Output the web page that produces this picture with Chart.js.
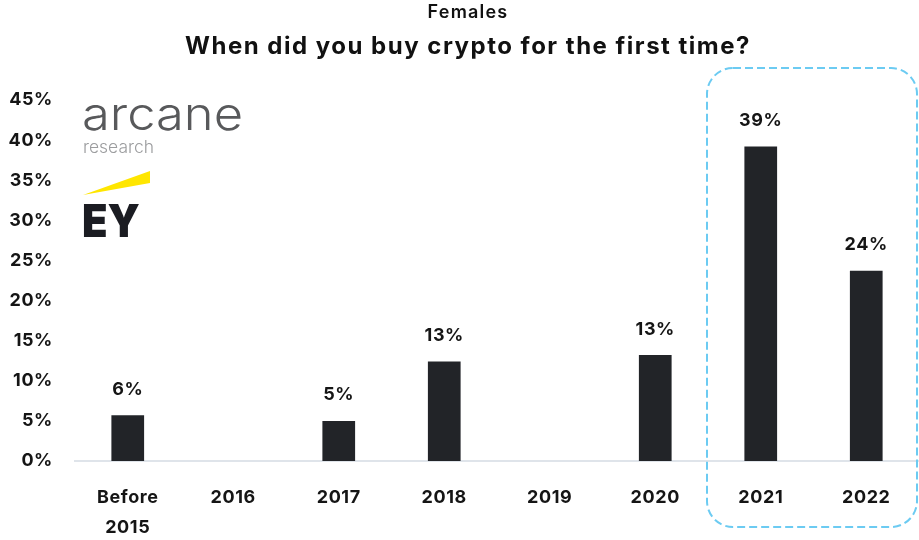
<!DOCTYPE html>
<html><head><meta charset="utf-8">
<script src="https://cdn.jsdelivr.net/npm/chart.js@4.4.0/dist/chart.umd.min.js"></script>
<style>html,body{margin:0;padding:0;background:#fff;}canvas{display:block;}</style>
</head><body>
<canvas id="c" width="919" height="540"></canvas>
<script>
const categories = [["Before","2015"], "2016", "2017", "2018", "2019", "2020", "2021", "2022"];
const values = [5.7, null, 5.0, 12.4, null, 13.2, 39.2, 23.7];
const valueLabels = ["6%", "", "5%", "13%", "", "13%", "39%", "24%"];
const yTicks = [0, 5, 10, 15, 20, 25, 30, 35, 40, 45];
const titleText = "Females";
const subtitleText = "When did you buy crypto for the first time?";

const FONT = "Inter, 'Noto Sans', sans-serif";

const spacing = {
  id: 'spacing',
  beforeDraw(chart) { chart.ctx.letterSpacing = '0.6px'; }
};

const decor = {
  id: 'decor',
  afterDatasetsDraw(chart) {
    const ctx = chart.ctx;
    const meta = chart.getDatasetMeta(0);
    ctx.save();
    ctx.letterSpacing = '0.6px';
    ctx.fillStyle = '#151515';
    ctx.font = "700 18px " + FONT;
    ctx.textAlign = 'center';
    ctx.textBaseline = 'middle';
    meta.data.forEach((bar, i) => {
      if (values[i] == null) return;
      ctx.fillText(valueLabels[i], bar.x, bar.y - 26);
    });
    // titles
    ctx.fillStyle = '#111';
    ctx.font = "600 18px " + FONT;
    ctx.letterSpacing = '1.2px';
    ctx.fillText(titleText, 468, 13);
    ctx.font = "700 24px " + FONT;
    ctx.letterSpacing = '1.5px';
    ctx.fillText(subtitleText, 468, 47);
    ctx.letterSpacing = '0px';
    // highlight box around 2021-2022
    const xs = chart.scales.x;
    const cx1 = xs.getPixelForValue(6), cx2 = xs.getPixelForValue(7);
    const step = cx2 - cx1;
    const left = cx1 - step * 0.5 - 1, right = cx2 + step * 0.5 - 2;
    const top = 68, bottom = 527, r = 26;
    ctx.strokeStyle = '#6ccbf2';
    ctx.lineWidth = 2;
    ctx.setLineDash([8, 4]);
    ctx.beginPath();
    ctx.roundRect(left, top, right - left, bottom - top, r);
    ctx.stroke();
    ctx.setLineDash([]);
    // logos
    ctx.textAlign = 'left';
    ctx.textBaseline = 'alphabetic';
    ctx.fillStyle = '#58595b';
    ctx.font = "300 46px " + FONT;
    let w = ctx.measureText('arcane').width;
    ctx.save();
    ctx.translate(82, 130);
    ctx.scale(161 / w, 1);
    ctx.fillText('arcane', 0, 0);
    ctx.restore();
    ctx.fillStyle = '#9b9c9e';
    ctx.font = "300 17px " + FONT;
    w = ctx.measureText('research').width;
    ctx.save();
    ctx.translate(83, 153);
    ctx.scale(71 / w, 1);
    ctx.fillText('research', 0, 0);
    ctx.restore();
    ctx.fillStyle = '#ffe600';
    ctx.beginPath();
    ctx.moveTo(83, 195);
    ctx.lineTo(150, 171);
    ctx.lineTo(150, 183);
    ctx.closePath();
    ctx.fill();
    ctx.fillStyle = '#1b1c22';
    ctx.font = "900 46px " + FONT;
    w = ctx.measureText('EY').width;
    ctx.save();
    ctx.translate(82, 237);
    ctx.scale(58 / w, 1);
    ctx.fillText('EY', 0, 0);
    ctx.restore();
    ctx.restore();
  }
};

new Chart(document.getElementById('c'), {
  type: 'bar',
  data: {
    labels: categories,
    datasets: [{
      data: values,
      backgroundColor: '#222428',
      borderColor: '#222428',
      borderWidth: 0,
      barPercentage: 0.62,
      categoryPercentage: 0.5
    }]
  },
  options: {
    responsive: false,
    animation: false,
    layout: { padding: { left: 0, right: 0, top: 100, bottom: 0 } },
    plugins: {
      legend: { display: false },
      tooltip: { enabled: false },
      title: { display: false },
      subtitle: { display: false }
    },
    scales: {
      y: {
        min: 0, max: 45,
        afterBuildTicks(s) { s.ticks = yTicks.map(v => ({ value: v })); },
        afterFit(s) { s.width = 75; },
        ticks: {
          callback: v => v + '%',
          color: '#151515',
          font: { family: FONT, size: 18, weight: '700' },
          padding: 14
        },
        grid: { display: false },
        border: { display: false }
      },
      x: {
        afterFit(s) { s.height = 79; },
        grid: { display: false },
        border: { display: true, color: '#dfe4ea', width: 2 },
        ticks: {
          color: '#151515',
          font: { family: FONT, size: 18, weight: '700', lineHeight: 1.65 },
          padding: 14,
          maxRotation: 0, autoSkip: false
        }
      }
    }
  },
  plugins: [spacing, decor]
});
</script>
</body></html>
